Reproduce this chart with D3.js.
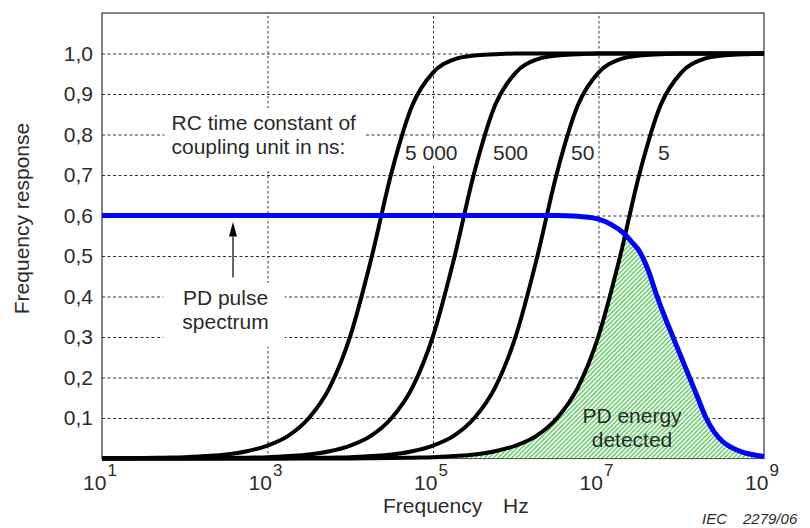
<!DOCTYPE html>
<html>
<head>
<meta charset="utf-8">
<script src="https://cdn.jsdelivr.net/npm/d3@7"></script>
<style>
  html, body { margin: 0; padding: 0; background: #fff; }
  svg { display: block; font-family: "Liberation Sans", Arial, Helvetica, sans-serif; }
</style>
</head>
<body>
<svg id="chart" width="810" height="528"></svg>
<script>
// log10 of frequency (Hz) for the coupling-unit response samples
const freqExp = [1, 1.25, 1.5, 1.75, 2, 2.25, 2.5, 2.75, 3, 3.25, 3.5, 3.75, 4, 4.25, 4.5, 4.75,
                 5, 5.25, 5.5, 5.75, 6, 6.25, 6.5, 6.75, 7, 7.25, 7.5, 7.75, 8, 8.25, 8.5, 8.75, 9];

// High-pass response of the coupling unit for each RC time constant
const resp5000 = [0.0003, 0.0006, 0.001, 0.002, 0.003, 0.006, 0.010, 0.018, 0.032, 0.056, 0.100, 0.175,
                  0.302, 0.490, 0.707, 0.872, 0.953, 0.985, 0.995, 0.998, 1, 1, 1, 1, 1, 1, 1, 1, 1, 1, 1, 1, 1];
const resp500  = [0, 0, 0.0001, 0.0002, 0.0003, 0.0006, 0.001, 0.002, 0.003, 0.006, 0.010, 0.018,
                  0.032, 0.056, 0.100, 0.175, 0.302, 0.490, 0.707, 0.872, 0.953, 0.985, 0.995, 0.998, 1, 1, 1, 1, 1, 1, 1, 1, 1];
const resp50   = [0, 0, 0, 0, 0, 0, 0.0001, 0.0002, 0.0003, 0.0006, 0.001, 0.002,
                  0.003, 0.006, 0.010, 0.018, 0.032, 0.056, 0.100, 0.175, 0.302, 0.490, 0.707, 0.872, 0.953, 0.985, 0.995, 0.998, 1, 1, 1, 1, 1];
const resp5    = [0, 0, 0, 0, 0, 0, 0, 0, 0, 0, 0.0001, 0.0002,
                  0.0003, 0.0006, 0.001, 0.002, 0.003, 0.006, 0.010, 0.018, 0.032, 0.056, 0.100, 0.175, 0.302, 0.490, 0.707, 0.872, 0.953, 0.985, 0.995, 0.998, 1];
const rcLabels = ["5 000", "500", "50", "5"];

// PD pulse spectrum
const pulseExp = [1, 5, 6, 6.5, 6.75, 6.9, 7.0, 7.15, 7.3, 7.4, 7.5, 7.6, 7.7, 7.8, 7.9, 8.0, 8.1, 8.2, 8.3, 8.4, 8.5, 8.6, 8.75, 8.9, 9.0];
const pulseVal = [0.6, 0.6, 0.6, 0.6, 0.598, 0.595, 0.591, 0.578, 0.557, 0.535, 0.51, 0.465, 0.405, 0.35, 0.30, 0.25, 0.20, 0.15, 0.10, 0.065, 0.042, 0.028, 0.015, 0.008, 0.005];

// Axis ticks
const yTicks = [0.1, 0.2, 0.3, 0.4, 0.5, 0.6, 0.7, 0.8, 0.9, 1.0];
const yTickLabels = ["0,1", "0,2", "0,3", "0,4", "0,5", "0,6", "0,7", "0,8", "0,9", "1,0"];
const xTickExp = [1, 3, 5, 7, 9];
const xGridExp = [3, 5, 7];

// ---- layout ----
const X0 = 102, X1 = 764, Y0 = 458.5, Y1 = 13;
const TEXT = "#2b2b2b", GRID = "#333";

const svg = d3.select("#chart");
const x = d3.scaleLog().domain([1e1, 1e9]).range([X0, X1]);
const y = d3.scaleLinear().domain([0, 1.1]).range([Y0, Y1]);

const toPts = (exps, vals) => exps.map((e, i) => ({ f: Math.pow(10, e), v: vals[i] }));
const line = d3.line().x(d => x(d.f)).y(d => y(d.v)).curve(d3.curveMonotoneX);
const area = d3.area().x(d => x(d.f)).y0(Y0).y1(d => y(d.v)).curve(d3.curveMonotoneX);

// hatch pattern for detected energy
const defs = svg.append("defs");
const pat = defs.append("pattern").attr("id", "hatch")
  .attr("patternUnits", "userSpaceOnUse").attr("width", 3.2).attr("height", 3.2)
  .attr("patternTransform", "rotate(45)");
pat.append("rect").attr("width", 3.2).attr("height", 3.2).attr("fill", "#fff");
pat.append("line").attr("x1", 0.8).attr("y1", 0).attr("x2", 0.8).attr("y2", 3.2)
  .attr("stroke", "#5acb5a").attr("stroke-width", 1.4);

// gridlines
const gY = svg.append("g").attr("transform", `translate(${X0},0)`)
  .call(d3.axisLeft(y).tickValues(yTicks).tickSize(-(X1 - X0)).tickPadding(9)
    .tickFormat((d, i) => yTickLabels[i]));
gY.select(".domain").remove();
gY.selectAll(".tick line").attr("stroke", GRID).attr("stroke-dasharray", "3,2.5");
gY.selectAll(".tick text").attr("fill", TEXT).style("font-size", "21px")
  .style("font-family", '"Liberation Sans", Arial, sans-serif');

const gX = svg.append("g").attr("transform", `translate(0,${Y0})`)
  .call(d3.axisBottom(x).tickValues(xGridExp.map(e => Math.pow(10, e))).tickSize(-(Y0 - Y1)).tickFormat(""));
gX.select(".domain").remove();
gX.selectAll(".tick line").attr("stroke", GRID).attr("stroke-dasharray", "2.5,2.5");

// layer for white label backgrounds (above grid, below curves)
const boxLayer = svg.append("g");

// frame
svg.append("rect").attr("x", X0).attr("y", Y1).attr("width", X1 - X0).attr("height", Y0 - Y1)
  .attr("fill", "none").attr("stroke", "#333").attr("stroke-width", 1.2);

// detected energy: pulse spectrum clipped to the 5 ns response
const pulsePts = toPts(pulseExp, pulseVal);
const rc5Pts = toPts(freqExp, resp5);
defs.append("clipPath").attr("id", "clip5").append("path").attr("d", area(rc5Pts));
svg.append("path").attr("d", area(pulsePts)).attr("fill", "url(#hatch)")
  .attr("clip-path", "url(#clip5)");
svg.append("path").attr("d", line(pulsePts)).attr("fill", "none")
  .attr("stroke", "#000").attr("stroke-width", 1).attr("clip-path", "url(#clip5)");

// coupling unit responses
[resp5000, resp500, resp50, resp5].forEach(vals => {
  svg.append("path").attr("d", line(toPts(freqExp, vals))).attr("fill", "none")
    .attr("stroke", "#000").attr("stroke-width", 4).attr("stroke-linejoin", "round");
});

// pulse spectrum
svg.append("path").attr("d", line(pulsePts)).attr("fill", "none")
  .attr("stroke", "#0000ff").attr("stroke-width", 5).attr("stroke-linejoin", "round");

// x tick labels (powers of ten)
const xl = svg.append("g").attr("fill", TEXT);
xTickExp.forEach(e => {
  const t = xl.append("text").attr("x", x(Math.pow(10, e)) - 2).attr("y", 490)
    .attr("text-anchor", "middle").style("font-size", "21px");
  t.append("tspan").text("10");
  t.append("tspan").attr("dy", -14).attr("dx", 1).style("font-size", "17px").text(String(e));
});

// axis titles
svg.append("text").attr("transform", "translate(29,218.5) rotate(-90)").attr("text-anchor", "middle")
  .attr("fill", TEXT).style("font-size", "21px").text("Frequency response");
svg.append("text").attr("x", 383).attr("y", 513).attr("fill", TEXT).style("font-size", "21px").text("Frequency");
svg.append("text").attr("x", 503).attr("y", 513).attr("fill", TEXT).style("font-size", "21px").text("Hz");
svg.append("text").attr("x", 702).attr("y", 524).attr("fill", TEXT).style("font-size", "15px")
  .style("font-style", "italic").text("IEC");
svg.append("text").attr("x", 743).attr("y", 524).attr("fill", TEXT).style("font-size", "15px")
  .style("font-style", "italic").text("2279/06");

// annotations with white backgrounds
function boxed(lines, opts, pad) {
  const g = svg.append("g").attr("fill", TEXT).style("font-size", "21px");
  const t = g.append("text").attr("text-anchor", opts.anchor || "start");
  lines.forEach((s, i) => {
    t.append("tspan").attr("x", opts.x).attr("y", opts.y + i * opts.lh).text(s);
  });
  if (pad) {
    const b = t.node().getBBox();
    boxLayer.append("rect").attr("x", b.x - pad[3]).attr("y", b.y - pad[0])
      .attr("width", b.width + pad[1] + pad[3]).attr("height", b.height + pad[0] + pad[2])
      .attr("fill", "#fff");
  }
  return g;
}

boxed(["RC time constant of", "coupling unit in ns:"], { x: 171.5, y: 130, lh: 24.3 }, [3, 9, 11, 7]);
const rcLabelX = [405, 493, 571, 658];
rcLabels.forEach((s, i) => boxed([s], { x: rcLabelX[i], y: 159.5, lh: 0 }, [1, 2, 1, 2]));
boxed(["PD pulse", "spectrum"], { x: 225.5, y: 305, lh: 23.5, anchor: "middle" }, [3, 16, 14, 19]);
boxed(["PD energy", "detected"], { x: 632, y: 423, lh: 23.7, anchor: "middle" }, null);

// arrow pointing at the pulse spectrum
const ax = x(Math.pow(10, 2.583));
const aTip = y(0.584), aBase = y(0.548), aEnd = y(0.447);
svg.append("line").attr("x1", ax).attr("x2", ax).attr("y1", aBase).attr("y2", aEnd)
  .attr("stroke", "#000").attr("stroke-width", 1.2);
svg.append("path").attr("d", `M${ax},${aTip}L${ax - 4},${aBase}L${ax + 4},${aBase}Z`).attr("fill", "#000");
</script>
</body>
</html>
